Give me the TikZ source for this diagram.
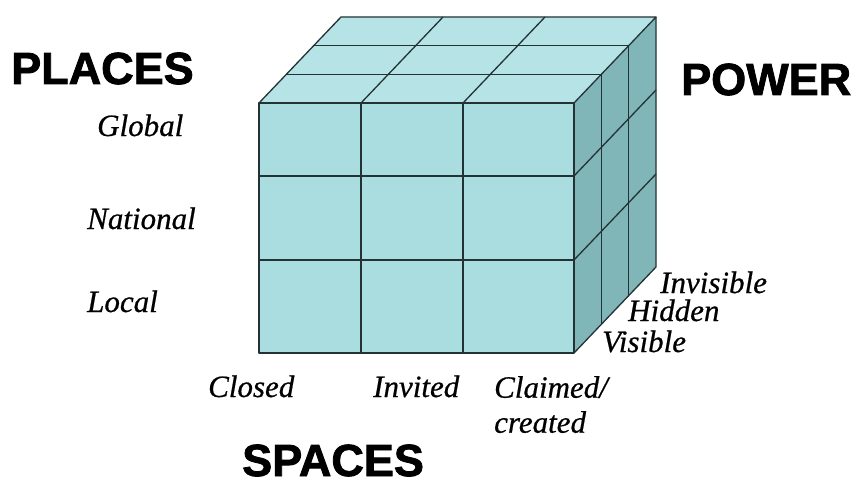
\documentclass[tikz,border=0pt]{standalone}
\usepackage{fontspec}
\setmainfont[ItalicFeatures={FakeBold=0.6}]{Liberation Serif}
\newfontfamily\headfont[BoldFeatures={FakeBold=1.8}]{Liberation Sans}
\usepackage{xcolor}
\usepackage{tikz}
\usetikzlibrary{calc}

\definecolor{frontc}{RGB}{170,221,224}
\definecolor{topc}{RGB}{182,228,230}
\definecolor{sidec}{RGB}{128,182,184}
\definecolor{edgec}{RGB}{35,50,52}

\begin{document}
\begin{tikzpicture}[x=1pt, y=-1pt,
    edge/.style={draw=edgec, line width=1.3pt, line join=round},
    head/.style={font=\headfont\bfseries\fontsize{45}{48}\selectfont, inner sep=0pt, anchor=base west},
    lab/.style={font=\itshape\fontsize{31}{35}\selectfont, inner sep=0pt, anchor=base west}]
  \useasboundingbox[fill=white] (0,0) rectangle (853,484);
  % cube corners (front face and depth)
  \coordinate (ftl) at (259,103);
  \coordinate (ftr) at (574,103);
  \coordinate (fbl) at (259,353);
  \coordinate (fbr) at (574,353);
  \coordinate (btl) at ($(ftl)+(82,-86)$);
  \coordinate (btr) at ($(ftr)+(82,-86)$);
  \coordinate (bbr) at ($(fbr)+(82,-86)$);
  % faces
  \fill[topc] (ftl) -- (ftr) -- (btr) -- (btl) -- cycle;
  \fill[sidec] (ftr) -- (btr) -- (bbr) -- (fbr) -- cycle;
  \fill[frontc] (ftl) rectangle (fbr);
  % grid lines
  \foreach \x in {361,463} {
    \draw[edge] (\x,103) -- (\x,353);
    \draw[edge] (\x,103) -- ++(82,-86);
  }
  \foreach \y in {176,260} {
    \draw[edge] (259,\y) -- (574,\y);
    \draw[edge] (574,\y) -- ++(82,-86);
  }
  \foreach \t in {0.3333,0.6667} {
    \draw[edge] ($(ftl)+\t*(82,-86)$) -- ++(315,0);
    \draw[edge] ($(ftr)+\t*(82,-86)$) -- ++(0,250);
  }
  \draw[edge] (ftl) rectangle (fbr);
  \draw[edge] (ftl) -- (btl) -- (btr) -- (ftr);
  \draw[edge] (btr) -- (bbr) -- (fbr);
  % axis titles
  \node[head] (places) at (11,84) {PLACES};
  \node[head] (power) at (681,95) {POWER};
  \node[head] (spaces) at (242,476) {SPACES};
  % places
  \node[lab] (global) at (97,136) {Global};
  \node[lab] (national) at (87,229) {National};
  \node[lab] (local) at (87,312) {Local};
  % spaces
  \node[lab] (closed) at (208,397) {Closed};
  \node[lab] (invited) at (373,397) {Invited};
  \node[lab, anchor=north west, align=left] (claimed) at (494,376) {Claimed/\\created};
  % power
  \node[lab] (invisible) at (660,293) {Invisible};
  \node[lab] (hidden) at (628,321) {Hidden};
  \node[lab] (visible) at (602,352) {Visible};
\end{tikzpicture}
\end{document}
